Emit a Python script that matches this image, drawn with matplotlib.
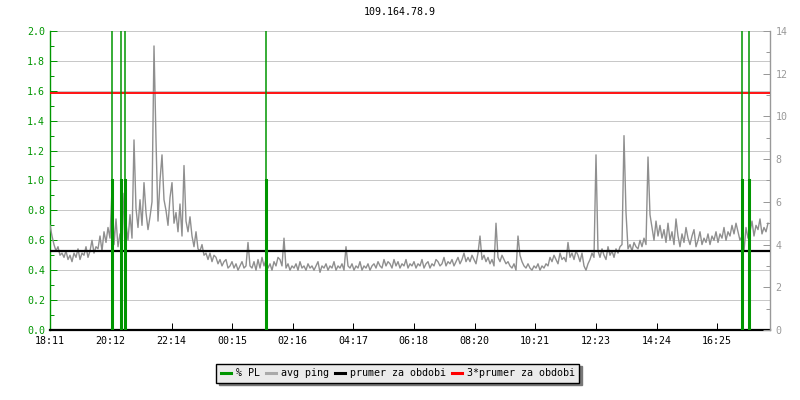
from __future__ import annotations

import matplotlib

matplotlib.use("Agg")
import matplotlib.pyplot as plt
from matplotlib.lines import Line2D
from matplotlib.ticker import MultipleLocator

TITLE = "109.164.78.9"
TIME_LABELS = ["18:11", "20:12", "22:14", "00:15", "02:16", "04:17",
               "06:18", "08:20", "10:21", "12:23", "14:24", "16:25"]

# avg ping [ms], one sample every 4 minutes starting at 18:11
PING_STEP_MIN = 4
AVG_PING = [
    4.9, 4.4, 4.0, 3.7, 3.9, 3.5, 3.6, 3.4, 3.7, 3.3,
    3.5, 3.2, 3.6, 3.4, 3.8, 3.3, 3.6, 3.5, 3.9, 3.4,
    3.7, 4.2, 3.6, 3.9, 3.8, 4.4, 3.7, 4.6, 4.1, 4.8,
    4.3, 6.6, 4.0, 5.2, 3.9, 4.5, 3.9, 6.4, 5.0, 4.2,
    5.4, 4.3, 8.9, 5.7, 4.8, 6.1, 4.9, 6.9, 5.5, 4.7,
    5.3, 6.0, 13.3, 8.9, 5.1, 7.0, 8.2, 6.1, 5.6, 4.9,
    6.2, 6.9, 5.0, 5.5, 4.6, 5.9, 4.4, 7.7, 5.1, 4.6,
    5.3, 4.4, 3.9, 4.6, 3.8, 3.7, 4.0, 3.5, 3.6, 3.3,
    3.6, 3.2, 3.5, 3.4, 3.1, 3.3, 3.0, 3.2, 3.3, 2.9,
    3.0, 3.2, 2.9, 3.1, 2.8, 3.0, 3.2, 2.9, 3.0, 4.1,
    3.0, 2.9, 3.2, 2.8, 3.3, 2.9, 3.4, 3.0, 3.3, 2.9,
    3.1, 2.8, 3.2, 3.0, 3.4, 3.3, 3.0, 4.3, 2.9, 3.1,
    2.8, 3.0, 2.9, 3.1, 2.8, 3.2, 2.9, 3.0, 2.8, 3.1,
    2.9, 3.0, 2.8, 3.0, 3.2, 2.7, 3.0, 2.9, 3.1, 2.8,
    3.0, 2.9, 3.2, 2.8, 3.0, 2.9, 3.1, 2.8, 3.9, 3.0,
    2.9, 3.1, 2.8, 3.0, 2.9, 3.2, 2.8, 3.0, 2.9, 3.1,
    2.8, 3.0, 3.1, 2.9, 3.2, 3.0, 2.9, 3.3, 3.0, 3.2,
    3.1, 2.9, 3.3, 3.0, 3.2, 2.9, 3.1, 3.0, 3.3, 2.9,
    3.1, 3.0, 3.2, 2.9, 3.1, 3.0, 3.3, 2.9, 3.1, 3.2,
    2.9, 3.1, 3.0, 3.3, 3.2, 3.0, 3.1, 3.4, 3.0, 3.2,
    3.1, 3.3, 3.0, 3.2, 3.4, 3.1, 3.3, 3.6, 3.2, 3.4,
    3.2, 3.5, 3.3, 3.1, 3.6, 4.4, 3.3, 3.5, 3.2, 3.4,
    3.1, 3.3, 3.0, 5.0, 3.4, 3.2, 3.5, 3.3, 3.1, 3.2,
    3.0, 2.9, 3.1, 2.8, 4.4, 3.5, 3.2, 3.0, 2.9, 3.1,
    2.9, 2.8, 3.0, 2.9, 3.1, 2.8, 3.0, 2.9, 3.1, 3.0,
    3.4, 3.2, 3.5, 3.3, 3.1, 3.6, 3.3, 3.4, 3.2, 4.1,
    3.4, 3.6, 3.3, 3.7, 3.5, 3.2, 3.6, 3.0, 2.8, 3.1,
    3.3, 3.6, 3.4, 8.2, 3.7, 3.4, 3.8, 3.5, 3.3, 3.9,
    3.5, 3.7, 3.4, 3.8, 3.6, 3.9, 4.0, 9.1, 5.5, 3.8,
    4.0, 3.7, 4.1, 3.9, 3.8, 4.2, 3.9, 4.3, 4.0, 8.1,
    5.4, 4.8, 4.2, 5.1, 4.4, 4.9, 4.3, 4.7, 4.1, 5.0,
    4.2, 4.6, 4.0, 5.2, 4.4, 3.9, 4.5, 4.1, 4.8, 4.3,
    4.0, 4.4, 4.7, 3.9, 4.2, 4.6, 4.0, 4.3, 4.1, 4.5,
    4.0, 4.4, 4.2, 4.6, 4.1, 4.5, 4.3, 4.8, 4.2, 4.6,
    4.4, 4.9, 4.5, 5.0, 4.6, 4.2, 4.4, 3.7, 4.8, 4.3,
    4.6, 5.1, 4.4, 4.9, 4.7, 5.2, 4.5, 4.8, 4.6, 5.0,
]

# packet loss events: minutes after 18:11 and value on the left axis
PL_MINUTES = [123, 141, 149, 431, 1383, 1397]
PL_VALUES = [1.0, 1.0, 1.0, 1.0, 1.0, 1.0]

PING_MEAN = 3.7  # prumer za obdobi [ms]

GREEN = "#009600"
GRAY = "#999999"
FS = 7.2
PX = 0.72  # one pixel in points at dpi 100


def minutes_from_start(labels: list[str]) -> list[int]:
    h0, m0 = map(int, labels[0].split(":"))
    out = []
    for lab in labels:
        h, m = map(int, lab.split(":"))
        out.append(((h * 60 + m) - (h0 * 60 + m0)) % 1440)
    return out


def main() -> None:
    plt.rcParams["font.family"] = "DejaVu Sans Mono"
    fig = plt.figure(figsize=(8, 4), dpi=100)
    ax = fig.add_axes([0.0625, 0.175, 0.9, 0.7475])
    ax2 = ax.twinx()

    ax.set_xlim(0, 1440)
    ax.set_ylim(0, 2.0)
    ax2.set_ylim(0, 14)

    ax.set_yticks([i * 0.2 for i in range(11)])
    ax.yaxis.set_minor_locator(MultipleLocator(0.1))
    ax.grid(axis="y", color="#c8c8c8", lw=PX)
    ax.set_axisbelow(True)

    t_ping = [i * PING_STEP_MIN for i in range(len(AVG_PING))]
    ax2.plot(t_ping, AVG_PING, color="#8f8f8f", lw=1.0, zorder=2)
    ax2.axhline(PING_MEAN, color="black", lw=1.6, zorder=3)
    ax2.axhline(3 * PING_MEAN, color="#ff0000", lw=1.3, zorder=3)

    for t, v in zip(PL_MINUTES, PL_VALUES):
        ax2.plot([t, t], [0, 14], color=GREEN, lw=1.1, zorder=4)
        ax2.plot([t + 1.5, t + 1.5], [0, v * 7], color=GREEN, lw=2.2, zorder=4)

    ticks = minutes_from_start(TIME_LABELS)
    ax.set_xticks(ticks)
    ax.set_xticklabels(TIME_LABELS)
    ax.tick_params(axis="x", direction="in", length=5, width=PX, labelsize=FS, pad=4, colors="black")
    ax.tick_params(axis="y", which="major", direction="in", length=5, width=PX, labelsize=FS,
                   colors=GREEN, labelcolor=GREEN)
    ax.tick_params(axis="y", which="minor", direction="in", length=3, width=PX, colors=GREEN)
    ax.set_yticklabels([f"{i * 0.2:.1f}" for i in range(11)])

    ax2.set_yticks(range(0, 15, 2))
    ax2.yaxis.set_minor_locator(MultipleLocator(1))
    ax2.tick_params(axis="y", which="major", direction="in", length=5, width=PX, labelsize=FS,
                    colors=GRAY, labelcolor=GRAY, pad=4)
    ax2.tick_params(axis="y", which="minor", direction="in", length=3, width=PX, colors=GRAY)

    for a in (ax, ax2):
        a.spines["top"].set_visible(False)
    ax.spines["right"].set_visible(False)
    ax2.spines["left"].set_visible(False)
    ax2.spines["bottom"].set_visible(False)
    ax.spines["left"].set_color(GREEN)
    ax.spines["left"].set_linewidth(1.0)
    ax.spines["bottom"].set_linewidth(1.6)
    ax2.spines["right"].set_color(GRAY)
    ax2.spines["right"].set_linewidth(1.0)

    fig.text(0.5, 0.97, TITLE, ha="center", va="center", fontsize=FS)

    handles = [
        Line2D([], [], color=GREEN, lw=2.2),
        Line2D([], [], color="#aaaaaa", lw=2.2),
        Line2D([], [], color="black", lw=2.2),
        Line2D([], [], color="#ff0000", lw=2.2),
    ]
    labels = ["% PL", "avg ping", "prumer za obdobi", "3*prumer za obdobi"]
    leg = fig.legend(handles, labels, loc="center", bbox_to_anchor=(0.497, 0.0675), ncol=4,
                     fontsize=FS, handlelength=1.0, handletextpad=0.5, columnspacing=0.6,
                     fancybox=False, shadow={"color": "#777777", "alpha": 1.0},
                     borderpad=0.45, framealpha=1.0)
    leg.get_frame().set_facecolor("#ebebeb")
    leg.get_frame().set_edgecolor("black")
    leg.get_frame().set_linewidth(1.0)

    fig.savefig("out.png", dpi=100)
    plt.close(fig)


if __name__ == "__main__":
    main()
